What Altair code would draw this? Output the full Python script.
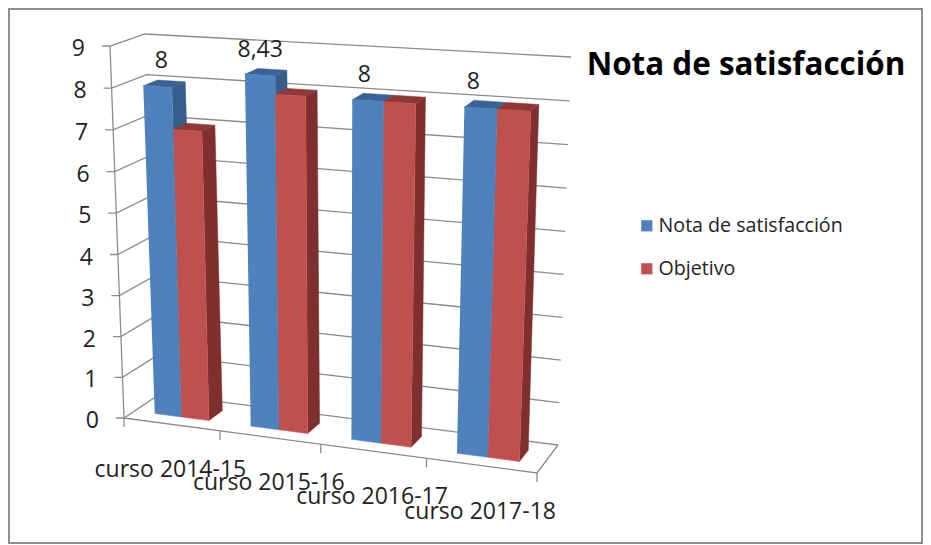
import altair as alt
import pandas as pd

categories = ["curso 2014-15", "curso 2015-16", "curso 2016-17", "curso 2017-18"]
nota = [8, 8.43, 8, 8]
objetivo = [7, 8, 8, 8]
nota_labels = ["8", "8,43", "8", "8"]
series_names = ["Nota de satisfacción", "Objetivo"]
value_ticks = list(range(0, 10))
title_text = "Nota de satisfacción"

FONT = "Open Sans"
BLUE = ("#4F81BD", "#385D8A", "#3A6296")
RED = ("#C0504D", "#7F2F2E", "#8F3835")
GRID = "#8C8C8C"
VMAX = 9.0

# corners of the chart's 3D box in the picture: (x, y) per (side, depth, level)
FRONT_BOTTOM = ((124, 418), (537, 473))
FRONT_TOP = ((110, 46), (552, 73))
BACK_BOTTOM = ((160, 394), (558, 445))
BACK_TOP = ((145, 34), (571, 57))


def lerp(a, b, t):
    return (a[0] + (b[0] - a[0]) * t, a[1] + (b[1] - a[1]) * t)


def project(u, v, d):
    """Category position u (0..4), value v, depth d (0..1) to the perspective view."""
    s = u / len(categories)
    g = s * (0.906 + 0.094 * s)
    t = v / VMAX
    f = 0.98 * t + 0.02 * t * t
    front = lerp(lerp(FRONT_BOTTOM[0], FRONT_TOP[0], f), lerp(FRONT_BOTTOM[1], FRONT_TOP[1], f), g)
    back = lerp(lerp(BACK_BOTTOM[0], BACK_TOP[0], f), lerp(BACK_BOTTOM[1], BACK_TOP[1], f), g)
    return lerp(front, back, d)


X = alt.X("x:Q", scale=alt.Scale(domain=[8, 923], nice=False, zero=False), axis=None)
Y = alt.Y("y:Q", scale=alt.Scale(domain=[545, 8], nice=False, zero=False), axis=None)
O = alt.Order("o:Q")


def frame(points, **extra):
    return pd.DataFrame(
        [{"x": p[0], "y": p[1], "o": i, **extra} for i, p in enumerate(points)]
    )


layers = []

# border
border = pd.DataFrame([{"x": 9, "x2": 922, "y": 9, "y2": 543}])
layers.append(
    alt.Chart(border)
    .mark_rect(filled=False, stroke="#8F8F8F", strokeWidth=2)
    .encode(x=X, x2="x2:Q", y=Y, y2="y2:Q")
)

# walls, gridlines, ticks
lines = []
for v in value_ticks:
    p0 = project(0, v, 0)
    lines.append(frame([(p0[0] - 8, p0[1]), p0, project(0, v, 1), project(4, v, 1)], g=f"v{v}"))
lines.append(frame([project(0, 0, 0), project(0, VMAX, 0)], g="axis"))
lines.append(frame([project(0, 0, 0), project(4, 0, 0), project(4, 0, 1)], g="floor"))
for i in range(len(categories) + 1):
    p = project(i, 0, 0)
    lines.append(frame([p, (p[0], p[1] + 9)], g=f"t{i}"))
layers.append(
    alt.Chart(pd.concat(lines))
    .mark_line(color=GRID, strokeWidth=1.3)
    .encode(x=X, y=Y, order=O, detail="g:N")
)

# hidden anchors that carry the colour legend
anchors = pd.DataFrame(
    [{"x": project(0.5, 1, 0.5)[0], "y": project(0.5, 1, 0.5)[1], "serie": n} for n in series_names]
)
layers.append(
    alt.Chart(anchors)
    .mark_square(size=1, opacity=1)
    .encode(
        x=X,
        y=Y,
        color=alt.Color(
            "serie:N",
            scale=alt.Scale(domain=series_names, range=[BLUE[0], RED[0]]),
            legend=alt.Legend(
                title=None,
                orient="none",
                legendX=629,
                legendY=208,
                symbolType="square",
                symbolSize=125,
                symbolStrokeWidth=0,
                labelFont=FONT,
                labelFontSize=19.6,
                labelColor="#222222",
                labelOffset=2,
                labelLimit=300,
                rowPadding=22,
            ),
        ),
    )
)

# bars
BAR = 1 / 3.5
GAP = 0.75 * BAR
D0, D1 = 0.3, 0.7
for i in range(len(categories)):
    for k, (val, col) in enumerate(((nota[i], BLUE), (objetivo[i], RED))):
        u0 = i + GAP + k * BAR
        u1 = u0 + BAR
        faces = [
            ([project(u1, 0, D0), project(u1, 0, D1), project(u1, val, D1), project(u1, val, D0)], col[1]),
            ([project(u0, val, D0), project(u1, val, D0), project(u1, val, D1), project(u0, val, D1)], col[2]),
            ([project(u0, 0, D0), project(u1, 0, D0), project(u1, val, D0), project(u0, val, D0)], col[0]),
        ]
        for pts, c in faces:
            layers.append(
                alt.Chart(frame(pts))
                .mark_line(fill=c, stroke=c, strokeWidth=0.5)
                .encode(x=X, y=Y, order=O)
            )

# data labels
lab_rows = []
for i, (val, lab) in enumerate(zip(nota, nota_labels)):
    p = project(i * 0.975 - 0.03 + GAP + BAR / 2, val, 0.5)
    lab_rows.append({"x": p[0], "y": p[1], "t": lab})
layers.append(
    alt.Chart(pd.DataFrame(lab_rows))
    .mark_text(font=FONT, fontSize=23, color="#222222", dy=-22)
    .encode(x=X, y=Y, text="t:N")
)

# value labels
val_rows = []
for v in value_ticks:
    p = project(0, v, 0)
    val_rows.append({"x": p[0], "y": p[1], "t": str(v)})
layers.append(
    alt.Chart(pd.DataFrame(val_rows))
    .mark_text(font=FONT, fontSize=23, color="#222222", align="right", dx=-25, dy=3)
    .encode(x=X, y=Y, text="t:N")
)

# category labels
cat_rows = []
for i, c in enumerate(categories):
    p = project(i + 0.5, 0, 0)
    cat_rows.append({"x": p[0], "y": p[1], "t": c})
layers.append(
    alt.Chart(pd.DataFrame(cat_rows))
    .mark_text(font=FONT, fontSize=23, color="#222222", dx=-1, dy=46)
    .encode(x=X, y=Y, text="t:N")
)

# title
layers.append(
    alt.Chart(pd.DataFrame([{"x": 746, "y": 66, "t": title_text}]))
    .mark_text(font=FONT, fontSize=31.4, fontWeight="bold", color="#000000")
    .encode(x=X, y=Y, text="t:N")
)

chart = (
    alt.layer(*layers)
    .properties(
        width=915,
        height=537,
        padding=0,
        background="white",
        autosize=alt.AutoSizeParams(type="none"),
    )
    .configure_view(stroke=None)
)
chart.save("out.html", embed_options={"renderer": "svg", "actions": False})
